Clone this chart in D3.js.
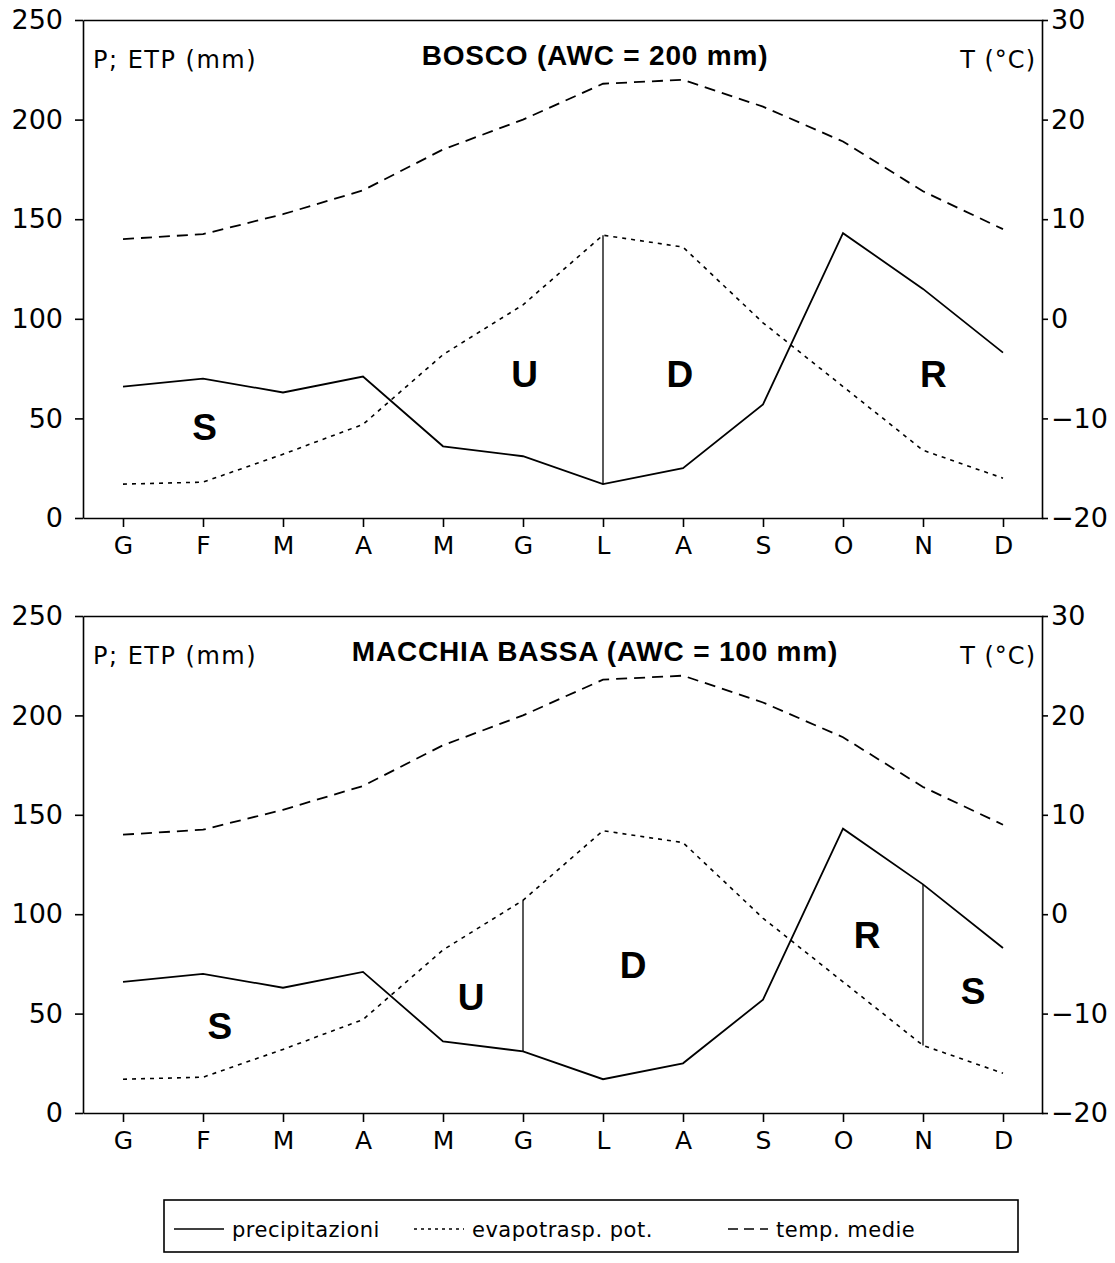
<!DOCTYPE html>
<html>
<head>
<meta charset="utf-8">
<script src="https://cdn.jsdelivr.net/npm/d3@7"></script>
<style>
  body { margin: 0; background: #fff; }
  svg text { fill: #000; }
</style>
</head>
<body>
<div id="chart"></div>
<script>
// months (Italian initials)
const months = ["G", "F", "M", "A", "M", "G", "L", "A", "S", "O", "N", "D"];

// precipitazioni (mm)
const precip = [66, 70, 63, 71, 36, 31, 17, 25, 57, 143, 115, 83];
// evapotraspirazione potenziale (mm)
const etp = [17, 18, 32, 47, 82, 107, 142, 136, 98, 66, 34, 20];
// temperature medie (°C)
const temp = [8.0, 8.5, 10.5, 12.9, 17.0, 20.0, 23.6, 24.0, 21.3, 17.8, 12.8, 9.0];

const leftTicks = [0, 50, 100, 150, 200, 250];
const rightTicks = [-20, -10, 0, 10, 20, 30];

// panels: title, vertical separators (month index), letters (month index, mm)
const panels = [
    {
        title: "BOSCO (AWC = 200 mm)",
        splits: [6],
        letters: [
            { t: "S", i: 1.02, v: 39 },
            { t: "U", i: 5.02, v: 66 },
            { t: "D", i: 6.96, v: 66 },
            { t: "R", i: 10.13, v: 66 }
        ]
    },
    {
        title: "MACCHIA BASSA (AWC = 100 mm)",
        splits: [5, 10],
        letters: [
            { t: "S", i: 1.21, v: 37 },
            { t: "U", i: 4.35, v: 52 },
            { t: "D", i: 6.375, v: 68 },
            { t: "R", i: 9.3, v: 83 },
            { t: "S", i: 10.625, v: 55 }
        ]
    }
];

const legendItems = [
    { label: "precipitazioni", dash: null },
    { label: "evapotrasp. pot.", dash: "3,4" },
    { label: "temp. medie", dash: "10,6" }
];

const width = 1115;
const height = 1263;
const left = 83, right = 1043;
const tickFont = "'DejaVu Sans', sans-serif";
const boldFont = "'Liberation Sans', Arial, sans-serif";

const svg = d3.select("#chart")
    .append("svg")
    .attr("width", width)
    .attr("height", height);

const x = d3.scalePoint()
    .domain(d3.range(months.length))
    .range([left, right])
    .padding(0.5);

// fractional month index -> px, for annotations
const xi = d3.scaleLinear()
    .domain([0, months.length - 1])
    .range([x(0), x(months.length - 1)]);

function drawPanel(p, top, bottom) {
    const y = d3.scaleLinear().domain([0, 250]).range([bottom, top]);
    const yT = d3.scaleLinear().domain([-20, 30]).range([bottom, top]);

    const g = svg.append("g");

    // axes
    const ax = g.append("g").attr("transform", `translate(${left},0)`)
        .call(d3.axisLeft(y).tickValues(leftTicks).tickSize(8).tickSizeOuter(0).tickPadding(12));
    const axR = g.append("g").attr("transform", `translate(${right - 1},0)`)
        .call(d3.axisRight(yT).tickValues(rightTicks).tickSize(6).tickSizeOuter(0).tickPadding(3));
    const axB = g.append("g").attr("transform", `translate(0,${bottom})`)
        .call(d3.axisBottom(x).tickFormat(i => months[i]).tickSize(9).tickSizeOuter(0).tickPadding(9));
    const axT = g.append("g").attr("transform", `translate(0,${top})`)
        .call(d3.axisTop(x).tickValues([]).tickSizeOuter(0));

    [ax, axR, axB, axT].forEach(a => {
        a.selectAll("path, line").attr("stroke", "#000").attr("stroke-width", 1.6);
        a.selectAll("text")
            .attr("font-family", tickFont)
            .attr("font-size", 27)
            .attr("fill", "#000");
    });
    axB.selectAll("text").attr("font-size", 25);

    // axis captions
    g.append("text")
        .attr("x", left + 10).attr("y", top + 48)
        .attr("font-family", tickFont).attr("font-size", 24)
        .attr("letter-spacing", 1.5)
        .text("P; ETP (mm)");
    g.append("text")
        .attr("x", right - 7).attr("y", top + 48)
        .attr("text-anchor", "end")
        .attr("font-family", tickFont).attr("font-size", 24)
        .attr("letter-spacing", 1)
        .text("T (°C)");

    // title
    g.append("text")
        .attr("x", (x(0) + x(11)) / 2 + 32).attr("y", top + 45)
        .attr("text-anchor", "middle")
        .attr("font-family", boldFont).attr("font-size", 28)
        .attr("font-weight", "bold")
        .attr("letter-spacing", 0.8)
        .text(p.title);

    // lines
    const line = d3.line().x((d, i) => x(i)).y(d => y(d));
    const lineT = d3.line().x((d, i) => x(i)).y(d => yT(d));

    g.append("path").datum(precip)
        .attr("d", line)
        .attr("fill", "none").attr("stroke", "#000").attr("stroke-width", 1.8);
    g.append("path").datum(etp)
        .attr("d", line)
        .attr("fill", "none").attr("stroke", "#000").attr("stroke-width", 1.6)
        .attr("stroke-dasharray", "4,5");
    g.append("path").datum(temp)
        .attr("d", lineT)
        .attr("fill", "none").attr("stroke", "#000").attr("stroke-width", 1.8)
        .attr("stroke-dasharray", "11,7");

    // separators between periods
    g.selectAll(".split").data(p.splits).enter()
        .append("line")
        .attr("x1", i => x(i)).attr("x2", i => x(i))
        .attr("y1", i => y(precip[i])).attr("y2", i => y(etp[i]))
        .attr("stroke", "#000").attr("stroke-width", 1.3);

    // period letters
    g.selectAll(".letter").data(p.letters).enter()
        .append("text")
        .attr("x", d => xi(d.i)).attr("y", d => y(d.v))
        .attr("text-anchor", "middle")
        .attr("font-family", boldFont).attr("font-size", 37)
        .attr("font-weight", "bold")
        .text(d => d.t);
}

drawPanel(panels[0], 20, 518);
drawPanel(panels[1], 616, 1113);

// legend
const lg = svg.append("g");
lg.append("rect")
    .attr("x", 164).attr("y", 1200).attr("width", 854).attr("height", 52)
    .attr("fill", "none").attr("stroke", "#000").attr("stroke-width", 1.6);

const legendX = [174, 414, 728];
const sampleW = [50, 50, 40];
legendItems.forEach((d, k) => {
    const gx = legendX[k];
    lg.append("line")
        .attr("x1", gx).attr("x2", gx + sampleW[k])
        .attr("y1", 1229).attr("y2", 1229)
        .attr("stroke", "#000").attr("stroke-width", 1.6)
        .attr("stroke-dasharray", d.dash);
    lg.append("text")
        .attr("x", gx + sampleW[k] + 8).attr("y", 1237)
        .attr("font-family", tickFont).attr("font-size", 21)
        .attr("letter-spacing", 0.5)
        .text(d.label);
});
</script>
</body>
</html>
